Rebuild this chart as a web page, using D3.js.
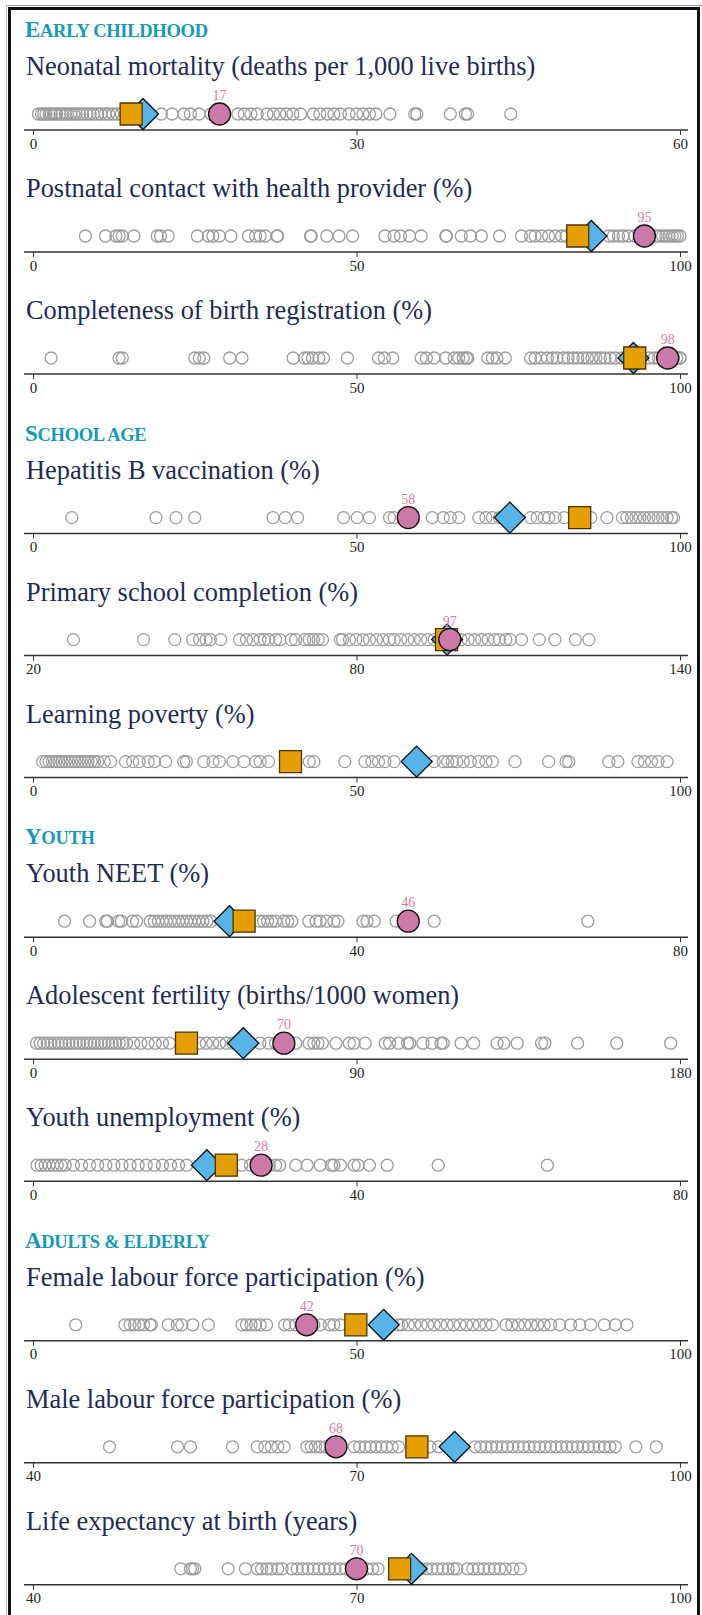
<!DOCTYPE html>
<html>
<head>
<meta charset="utf-8">
<script src="https://cdn.jsdelivr.net/npm/d3@7"></script>
<style>
  body { margin: 0; background: #fff; }
  svg { display: block; }
</style>
</head>
<body>
<script>
// sections and the indicators in each
var sectionNames = ["Early Childhood", "School Age", "Youth", "Adults & Elderly"];
var sectionOf = [0, 0, 0, 1, 1, 1, 2, 2, 2, 3, 3, 3];
var indicatorNames = [
  "Neonatal mortality (deaths per 1,000 live births)",
  "Postnatal contact with health provider (%)",
  "Completeness of birth registration (%)",
  "Hepatitis B vaccination (%)",
  "Primary school completion (%)",
  "Learning poverty (%)",
  "Youth NEET (%)",
  "Adolescent fertility (births/1000 women)",
  "Youth unemployment (%)",
  "Female labour force participation (%)",
  "Male labour force participation (%)",
  "Life expectancy at birth (years)"
];
var axisMin = [0, 0, 0, 0, 20, 0, 0, 0, 0, 0, 40, 40];
var axisMax = [60, 100, 100, 100, 140, 100, 80, 180, 80, 100, 100, 100];

// highlighted country (pink circle, labelled), square and diamond comparators
var countryValues = [17.3, 94.5, 98.1, 58.0, 97.3, null, 46.4, 69.8, 28.2, 42.3, 68.1, 70.0];
var countryLabels = ["17", "95", "98", "58", "97", "", "46", "70", "28", "42", "68", "70"];
var squareValues = [9.1, 84.2, 93.0, 84.5, 96.7, 39.8, 26.1, 42.7, 23.9, 49.9, 75.6, 74.0];
var diamondValues = [10.2, 86.3, 92.8, 73.7, 96.8, 59.3, 24.3, 58.5, 21.5, 54.2, 79.1, 75.1];

// all other countries (grey open circles)
var neonatal = [0.5, 0.8, 1, 1.2, 1.5, 1.7, 2, 2.2, 2.5, 2.7, 3, 3.2, 3.5, 3.8, 4, 4.3, 4.6, 5, 5.3, 5.6, 6, 6.3, 6.7, 7, 7.4, 7.8, 8.2, 8.6,
  11.9, 12.9, 14.0, 14.6, 15.4, 16.5, 19.0, 19.6, 20.2, 20.8, 21.7, 22.3, 22.9, 23.5, 24.1, 24.8, 26.0, 26.6, 27.3, 27.9,
  28.5, 29.3, 30.0, 30.6, 31.2, 31.8, 33.1, 35.4, 35.6, 38.7, 40.1, 40.3, 44.3];
var postnatal = [8.1, 11.2, 12.8, 13.3, 13.8, 15.6, 19.2, 19.7, 20.9, 25.4, 27.1, 27.8, 28.8, 30.6, 33.3, 34.4, 35.1, 35.9, 37.7, 37.8,
  42.9, 43.0, 45.4, 47.3, 49.4, 54.4, 55.8, 56.8, 58.2, 60.0, 63.8, 63.9, 66.2, 67.6, 69.3, 72.1, 75.5, 76.9, 77.6, 78.6,
  79.7, 80.7, 81.7, 82.4, 83.5, 89, 89.7, 90.5, 91.2, 92, 93, 96.3, 96.8, 97.3, 97.8, 98.3, 98.8, 99.2, 99.6, 100];
var birthReg = [2.8, 13.3, 13.8, 25.0, 25.7, 26.4, 30.4, 32.3, 40.2, 42.0, 42.5, 43.2, 44.2, 44.9, 48.6, 53.4, 54.3, 55.6,
  60.0, 60.8, 62.0, 63.8, 65.1, 65.8, 66.5, 67.0, 67.2, 70.3, 71.0, 71.7, 73.0, 76.9, 77.6, 78.5, 79.5, 80.3, 81, 82,
  82.7, 83.5, 84.2, 85, 85.7, 86.4, 87, 87.7, 88.4, 89.2, 90, 91, 95.2, 96, 96.7, 97.3, 98.5, 99, 99.5, 100, 100];
var hepB = [6.0, 19.0, 22.1, 25.0, 37.1, 39.0, 40.9, 48.0, 50.1, 52.0, 55.1, 55.8, 61.7, 63.4, 64.5, 65.8, 68.9, 70.0, 71.0,
  72.1, 76.9, 77.9, 79.0, 79.7, 80.7, 82.1, 86.2, 88.7, 91.1, 91.8, 92.5, 93.2, 93.8, 94.5, 95.2, 95.9, 96.6, 97.3, 98.0,
  98.7, 99.0];
var primary = [27.5, 40.5, 46.3, 49.6, 50.9, 52.1, 52.9, 54.8, 58.3, 59.6, 60.8, 62.1, 62.9, 63.7, 65.0, 65.8, 67.9, 68.7,
  70.4, 71.2, 72.0, 72.9, 73.7, 77.0, 77.4, 78.7, 79.9, 81.2, 82.4, 83.7, 84.9, 86.1, 87.0, 88.2, 89.5, 90.7, 91.9,
  93.2, 94.4, 95.7, 99.4, 100.7, 101.9, 103.2, 104.4, 105.6, 106.5, 107.7, 108.5, 110.6, 113.9, 116.8, 120.6, 123.1];
var learning = [1.5, 2, 2.5, 3, 3.5, 4, 4.5, 5, 5.5, 6, 6.5, 7, 7.5, 8, 8.5, 9, 9.5, 10, 11, 12, 14.3, 15.4, 16.4, 17.8,
  18.8, 20.5, 23.3, 23.7, 26.4, 27.8, 28.8, 30.9, 32.6, 34.4, 35.1, 36.4, 42.7, 43.4, 48.2, 51.3, 52.4, 53.4, 54.4,
  55.8, 62.0, 63.4, 64.1, 64.8, 65.5, 66.5, 67.6, 68.9, 70.0, 71.0, 74.5, 79.7, 82.4, 82.8, 89.0, 90.4, 93.5, 94.5,
  95.6, 96.6, 98.0];
var neet = [3.9, 7.0, 9.0, 9.2, 10.6, 10.9, 12.3, 12.8, 14.5, 15, 15.5, 16, 16.5, 17, 17.5, 18, 18.5, 19, 19.5, 20, 20.5,
  21, 21.5, 22, 28, 28.5, 29, 29.5, 30, 31, 31.5, 32, 34.1, 35.0, 35.5, 36.3, 37.2, 37.7, 40.8, 41.3, 42.2, 44.9,
  49.6, 68.6];
var fertility = [1, 2, 3, 4, 5, 6, 7, 8, 9, 10, 11, 12, 13, 14, 15, 16, 17, 18, 19, 20, 21, 22, 23, 24, 25, 26, 28, 30,
  32, 34, 36, 38, 46.3, 48.2, 50, 51.9, 53.8, 55.6, 63.1, 65.6, 67.5, 73.1, 76.8, 78.1, 79.3, 80.5, 84.3, 88.0, 89.3,
  92.4, 98.0, 99.2, 101.7, 104.2, 104.8, 108.5, 111.0, 113.5, 114.1, 119.1, 122.6, 129.1, 131.0, 134.7, 141.5, 142.4,
  151.5, 162.4, 177.4];
var youthUnemp = [0.5, 1, 1.5, 2, 2.5, 3, 3.5, 4, 5, 6, 7, 8, 9, 10, 11, 12, 13, 14, 15, 16, 17, 18, 19, 25.8, 26.9,
  29.2, 30.0, 30.5, 32.5, 33.9, 35.5, 36.9, 37.2, 38.0, 39.7, 40.2, 41.6, 43.8, 50.1, 63.6];
var femaleLfp = [6.6, 14.2, 15.0, 15.7, 16.4, 17.1, 18.1, 18.3, 20.9, 22.3, 23.0, 24.7, 27.1, 32.3, 33.0, 33.7, 34.4, 35.1,
  36.1, 38.9, 39.6, 40.6, 43.4, 44.4, 45.8, 46.5, 47.5, 56.5, 57, 58, 59, 60, 61, 62, 63, 64, 65, 66, 67, 68, 69, 70,
  71, 73.1, 74, 75, 76, 77, 78, 79, 80, 81.4, 83.1, 84.5, 86.2, 88.3, 90.0, 91.8];
var maleLfp = [47.1, 53.4, 54.6, 58.5, 60.8, 61.5, 62.1, 62.7, 63.3, 65.4, 65.8, 66.2, 66.6, 67.1, 69.8, 70.3, 70.8, 71.3,
  71.8, 72.3, 72.8, 73.3, 73.9, 76.8, 77.6, 81, 81.5, 82, 82.5, 83, 83.5, 84, 84.5, 85, 85.5, 86, 86.5, 87, 87.5, 88,
  88.5, 89, 89.5, 90, 90.5, 91, 91.5, 92, 92.5, 93, 93.5, 94, 95.9, 97.8];
var lifeExp = [53.7, 54.6, 54.8, 55.0, 58.1, 59.7, 60.8, 61.2, 61.7, 62.1, 62.7, 63.1, 64, 64.5, 65, 65.5, 66, 66.5, 67,
  67.5, 68, 68.5, 69, 69.5, 70.5, 71, 71.5, 72, 73.7, 76, 76.5, 77, 77.5, 78, 78.5, 79, 79.3, 80.3, 80.8, 81.3, 81.8,
  82.3, 82.8, 83.3, 83.8, 84.5, 85.2];

var otherValues = [neonatal, postnatal, birthReg, hepB, primary, learning, neet, fertility, youthUnemp, femaleLfp, maleLfp, lifeExp];

var width = 702, height = 1615;
var serif = "'Liberation Serif', 'DejaVu Serif', serif";

var svg = d3.select("body").append("svg")
    .attr("width", width)
    .attr("height", height);

// frame
svg.append("line").attr("x1", 6).attr("x2", 702).attr("y1", 5.5).attr("y2", 5.5)
    .attr("stroke", "#999").attr("stroke-width", 1);
svg.append("line").attr("x1", 6.5).attr("x2", 6.5).attr("y1", 5).attr("y2", height)
    .attr("stroke", "#bbb").attr("stroke-width", 1);
svg.append("rect")
    .attr("x", 9.5).attr("y", 8.5).attr("width", 689).attr("height", height + 20)
    .attr("fill", "none").attr("stroke", "#111").attr("stroke-width", 3);

var x0 = 33, x1 = 680;
var stepY = 122, sectionGap = 37.6, firstAxis = 130;

function axisY(i) {
  return firstAxis + i * stepY + sectionOf[i] * sectionGap;
}

// section headers: first letter big, rest small caps
sectionNames.forEach(function(name, s) {
  var first = sectionOf.indexOf(s);
  var t = svg.append("text")
      .attr("x", 25)
      .attr("y", axisY(first) - 93)
      .attr("fill", "#1699b6")
      .attr("font-family", serif)
      .attr("font-weight", "bold")
      .attr("letter-spacing", "-0.3");
  t.append("tspan").attr("font-size", 23).text(name[0].toUpperCase());
  t.append("tspan").attr("font-size", 18.5).text(name.slice(1).toUpperCase());
});

indicatorNames.forEach(function(name, i) {
  var ay = axisY(i);
  var dy = ay - 16;
  var g = svg.append("g");

  var x = d3.scaleLinear().domain([axisMin[i], axisMax[i]]).range([x0, x1]);

  g.append("text")
      .attr("x", 26)
      .attr("y", ay - 55)
      .attr("fill", "#1f2b52")
      .attr("font-family", serif)
      .attr("font-size", 26.4)
      .text(name);

  g.append("line")
      .attr("x1", 24).attr("x2", 688)
      .attr("y1", ay).attr("y2", ay)
      .attr("stroke", "#333").attr("stroke-width", 1.5);

  var ax = g.append("g")
      .attr("transform", "translate(0," + ay + ")")
      .call(d3.axisBottom(x)
        .tickValues([axisMin[i], (axisMin[i] + axisMax[i]) / 2, axisMax[i]])
        .tickSize(5).tickPadding(3).tickFormat(d3.format("d")));
  ax.select(".domain").remove();
  ax.selectAll("line").attr("stroke", "#333");
  ax.selectAll("text")
      .attr("font-family", serif)
      .attr("font-size", 15)
      .attr("fill", "#222");

  g.selectAll("circle.other")
      .data(otherValues[i])
      .enter().append("circle")
      .attr("class", "other")
      .attr("cx", function(d) { return x(d); })
      .attr("cy", dy)
      .attr("r", 6)
      .attr("fill", "none")
      .attr("stroke", "#9c9c9c")
      .attr("stroke-width", 1.3);

  g.append("path")
      .attr("d", d3.symbol(d3.symbolSquare, 480)())
      .attr("transform", "translate(" + x(diamondValues[i]) + "," + dy + ") rotate(45)")
      .attr("fill", "#56b4e9")
      .attr("stroke", "#111")
      .attr("stroke-width", 1.3);

  g.append("path")
      .attr("d", d3.symbol(d3.symbolSquare, 484)())
      .attr("transform", "translate(" + x(squareValues[i]) + "," + dy + ")")
      .attr("fill", "#e69f00")
      .attr("stroke", "#4a3300")
      .attr("stroke-width", 1.3);

  if (countryValues[i] != null) {
    g.append("circle")
        .attr("cx", x(countryValues[i]))
        .attr("cy", dy)
        .attr("r", 11)
        .attr("fill", "#cc79a7")
        .attr("stroke", "#111")
        .attr("stroke-width", 1.3);
    g.append("text")
        .attr("x", x(countryValues[i]))
        .attr("y", dy - 14)
        .attr("text-anchor", "middle")
        .attr("fill", "#d97aa6")
        .attr("font-family", serif)
        .attr("font-size", 14)
        .text(countryLabels[i]);
  }
});
</script>
</body>
</html>
